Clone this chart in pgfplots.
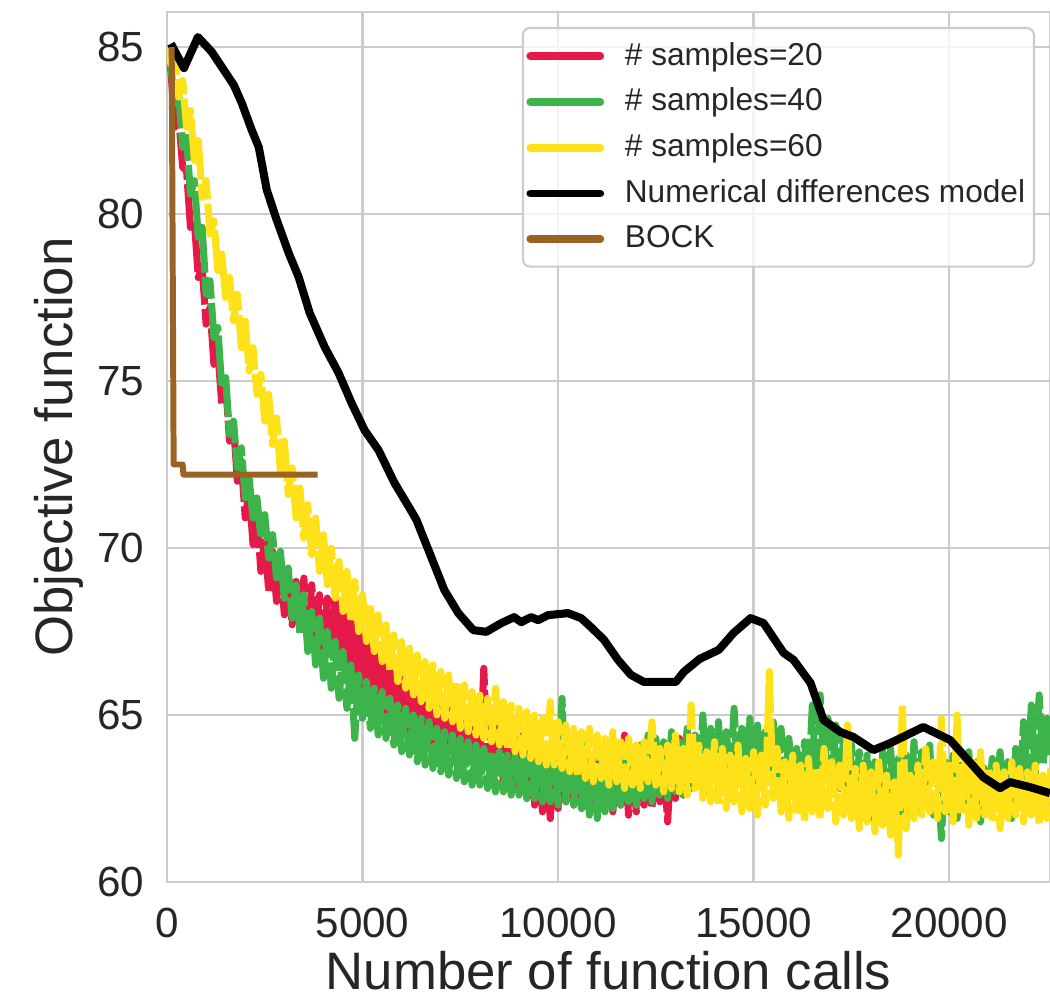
\documentclass[border=0pt]{standalone}
\usepackage{pgfplots}
\pgfplotsset{compat=1.18}
\usepackage{fontspec}
\setmainfont{Liberation Sans}
\usetikzlibrary{calc}
\definecolor{cred}{RGB}{230,25,75}
\definecolor{cgreen}{RGB}{60,180,75}
\definecolor{cyellow}{RGB}{255,225,25}
\definecolor{cbrown}{RGB}{154,99,36}
\definecolor{txt}{RGB}{38,38,38}
\definecolor{gridc}{RGB}{204,204,204}
\begin{document}
\begin{tikzpicture}
\begin{axis}[
  width=8.83cm, height=8.70cm, scale only axis,
  xmin=0, xmax=22577, ymin=60, ymax=86.05,
  xtick={0,5000,...,20000}, ytick={60,65,...,85},
  grid=major, major grid style={gridc, line width=0.7pt},
  axis line style={gridc, line width=0.8pt},
  tick style={draw=none},
  scaled ticks=false,
  /pgf/number format/1000 sep={},
  /pgf/number format/assume math mode=true,
  tick label style={font=\fontsize{12}{12}\selectfont, text=txt},
  yticklabel style={anchor=east, inner sep=0pt, xshift=-0.22cm},
  xticklabel style={anchor=north, inner sep=0pt, yshift=-0.25cm},
  xlabel={Number of function calls},
  ylabel={Objective function},
  every axis x label/.style={at={(axis description cs:0.5,-0.124)}, anchor=base, font=\fontsize{15}{15}\selectfont, text=txt},
  every axis y label/.style={at={(axis description cs:-0.1065,0.5)}, anchor=base, rotate=90, font=\fontsize{15}{15}\selectfont, text=txt},
  legend cell align=left,
  legend style={at={(1,1)}, anchor=north east, xshift=-0.15cm, yshift=-0.15cm,
    draw=gridc, line width=0.6pt, rounded corners=2pt, fill=white, fill opacity=0.8, text opacity=1,
    font=\fontsize{9}{10}\selectfont, text=txt, row sep=1.0pt, inner xsep=1pt,
    nodes={inner xsep=1.5pt},
    /tikz/every odd column/.append style={column sep=4.4pt}},
  legend image code/.code={\draw[#1, solid, line width=2.2pt, line cap=round] (0cm,0cm) -- (0.7cm,0cm);},
  noisy/.style={line width=2pt, line join=round, dash pattern=on 14pt off 1.2pt},
]
\coordinate (sw) at (rel axis cs:0,0);
\coordinate (ne) at (rel axis cs:1,1);

\addplot[cred, noisy] coordinates {
(0,85.0)(100,84.3)(200,82.6)(300,82.9)(400,81.4)(500,81.3)(600,79.6)(700,79.8)(800,78.1)(900,78.4)
(1000,76.7)(1100,77.2)(1200,75.5)(1300,75.9)(1400,74.3)(1500,74.9)(1600,73.2)(1700,73.7)(1800,72.0)(1900,72.6)
(2000,70.9)(2100,71.7)(2200,70.1)(2300,71.0)(2400,69.3)(2500,70.3)(2600,68.7)(2700,69.9)(2800,68.4)(2900,69.5)
(3000,68.0)(3100,69.2)(3200,67.7)(3300,69.0)(3400,67.6)(3500,69.1)(3600,67.3)(3700,68.9)(3800,67.2)(3900,68.6)
(4000,66.9)(4100,68.5)(4200,66.8)(4300,68.7)(4400,66.9)(4500,68.2)(4600,66.5)(4700,67.9)(4800,66.2)(4900,67.7)
(5000,65.8)(5100,67.3)(5200,65.6)(5300,67.0)(5400,65.3)(5500,66.8)(5600,65.0)(5700,66.5)(5800,64.8)(5900,66.3)
(6000,64.7)(6100,66.2)(6200,64.5)(6300,65.9)(6400,64.4)(6500,65.8)(6600,64.2)(6700,65.7)(6800,64.1)(6900,65.9)
(7000,64.0)(7100,65.4)(7200,63.9)(7300,65.6)(7400,63.8)(7500,65.3)(7600,63.7)(7700,65.2)(7800,63.6)(7900,65.0)
(8000,63.5)(8100,66.4)(8200,63.4)(8300,65.1)(8400,63.3)(8500,65.4)(8600,63.0)(8700,64.9)(8800,62.9)(8900,64.6)
(9000,62.7)(9100,64.4)(9200,62.5)(9300,64.2)(9400,62.3)(9500,63.8)(9600,62.1)(9700,63.4)(9800,61.9)(9900,63.6)
(10000,62.2)(10100,63.9)(10200,62.4)(10300,64.0)(10400,62.3)(10500,63.8)(10600,62.2)(10700,63.9)(10800,62.1)(10900,63.7)
(11000,62.0)(11100,63.8)(11200,62.2)(11300,64.1)(11400,62.1)(11500,63.6)(11600,62.3)(11700,64.4)(11800,62.0)(11900,63.7)
(12000,62.1)(12100,63.9)(12200,62.3)(12300,63.8)(12400,62.2)(12500,64.0)(12600,62.4)(12700,63.7)(12800,61.8)(12900,63.9)
(13000,62.5)(13100,64.3)(13200,62.6)(13300,64.5)(13400,63.0)(13500,64.4)
};
\addlegendentry{\# samples=20}

\addplot[cgreen, noisy] coordinates {
(0,85.0)(100,84.4)(200,83.3)(300,83.6)(400,82.0)(500,82.3)(600,80.6)(700,81.0)(800,79.3)(900,79.6)
(1000,77.6)(1100,78.0)(1200,76.3)(1300,76.6)(1400,74.8)(1500,75.1)(1600,73.4)(1700,73.8)(1800,72.4)(1900,73.0)
(2000,71.5)(2100,72.1)(2200,70.9)(2300,71.5)(2400,70.3)(2500,71.0)(2600,69.7)(2700,70.4)(2800,69.1)(2900,69.9)
(3000,68.5)(3100,69.4)(3200,67.9)(3300,68.9)(3400,67.4)(3500,68.6)(3600,66.9)(3700,68.1)(3800,66.5)(3900,67.9)
(4000,66.1)(4100,67.5)(4200,65.8)(4300,67.2)(4400,65.5)(4500,66.9)(4600,65.2)(4700,66.5)(4800,64.3)(4900,66.2)
(5000,64.9)(5100,66.0)(5200,64.6)(5300,65.8)(5400,64.4)(5500,65.7)(5600,64.3)(5700,65.5)(5800,64.1)(5900,65.3)
(6000,63.9)(6100,65.2)(6200,63.8)(6300,65.0)(6400,63.6)(6500,64.9)(6600,63.5)(6700,64.8)(6800,63.4)(6900,64.6)
(7000,63.3)(7100,64.5)(7200,63.2)(7300,64.4)(7400,63.1)(7500,64.3)(7600,63.0)(7700,64.2)(7800,62.9)(7900,64.1)
(8000,62.9)(8100,64.0)(8200,62.8)(8300,63.9)(8400,62.7)(8500,63.9)(8600,62.7)(8700,63.8)(8800,62.6)(8900,63.8)
(9000,62.6)(9100,63.7)(9200,62.5)(9300,64.2)(9400,62.5)(9500,63.6)(9600,62.4)(9700,63.6)(9800,62.4)(9900,64.0)
(10000,62.3)(10100,65.5)(10200,62.4)(10300,64.3)(10400,62.3)(10500,63.9)(10600,62.2)(10700,64.1)(10800,62.0)(10900,63.8)
(11000,61.9)(11100,63.6)(11200,62.1)(11300,64.2)(11400,62.2)(11500,63.7)(11600,62.3)(11700,64.0)(11800,62.4)(11900,63.9)
(12000,62.3)(12100,64.1)(12200,62.5)(12300,64.4)(12400,62.4)(12500,64.3)(12600,62.6)(12700,64.2)(12800,62.5)(12900,64.5)
(13000,62.7)(13100,64.2)(13200,62.6)(13300,64.6)(13400,62.8)(13500,64.4)(13600,62.9)(13700,65.0)(13800,62.7)(13900,64.6)
(14000,63.0)(14100,64.8)(14200,62.8)(14300,64.5)(14400,63.1)(14500,65.2)(14600,62.9)(14700,64.6)(14800,63.2)(14900,64.9)
(15000,63.0)(15100,64.7)(15200,62.8)(15300,64.5)(15400,63.2)(15500,64.8)(15600,63.0)(15700,64.6)(15800,62.7)(15900,64.3)
(16000,62.9)(16100,64.0)(16200,62.6)(16300,64.2)(16400,62.8)(16500,65.3)(16600,62.9)(16700,65.6)(16800,63.2)(16900,64.9)
(17000,63.0)(17100,64.7)(17200,62.8)(17300,64.3)(17400,62.6)(17500,64.1)(17600,62.3)(17700,63.9)(17800,62.2)(17900,63.8)
(18000,61.9)(18100,63.6)(18200,62.1)(18300,63.9)(18400,62.3)(18500,64.0)(18600,62.2)(18700,63.7)(18800,62.0)(18900,63.8)
(19000,62.3)(19100,64.2)(19200,62.1)(19300,63.9)(19400,62.4)(19500,64.1)(19600,62.0)(19700,63.5)(19800,61.3)(19900,63.6)
(20000,62.1)(20100,63.8)(20200,61.9)(20300,63.5)(20400,62.2)(20500,63.9)(20600,62.0)(20700,63.6)(20800,61.8)(20900,63.4)
(21000,62.1)(21100,63.7)(21200,62.3)(21300,63.9)(21400,62.0)(21500,63.6)(21600,61.9)(21700,64.0)(21800,62.5)(21900,64.8)
(22000,63.0)(22100,65.3)(22200,63.2)(22300,65.6)(22400,63.5)(22500,64.9)(22600,63.8)
};
\addlegendentry{\# samples=40}

\addplot[cyellow, noisy] coordinates {
(0,85.0)(100,84.5)(200,84.8)(300,83.5)(400,84.0)(500,82.6)(600,83.1)(700,81.6)(800,82.2)(900,80.5)
(1000,81.0)(1100,79.4)(1200,79.8)(1300,78.3)(1400,78.8)(1500,77.5)(1600,78.1)(1700,76.8)(1800,77.6)(1900,76.0)
(2000,76.8)(2100,75.3)(2200,76.0)(2300,74.6)(2400,75.2)(2500,73.8)(2600,74.6)(2700,73.1)(2800,73.9)(2900,72.3)
(3000,73.2)(3100,71.6)(3200,72.4)(3300,70.9)(3400,71.8)(3500,70.3)(3600,71.3)(3700,69.8)(3800,70.9)(3900,69.3)
(4000,70.4)(4100,68.9)(4200,70.0)(4300,68.5)(4400,69.6)(4500,68.1)(4600,69.3)(4700,67.8)(4800,69.0)(4900,67.5)
(5000,68.6)(5100,67.2)(5200,68.3)(5300,66.9)(5400,68.0)(5500,66.6)(5600,67.7)(5700,66.3)(5800,67.4)(5900,66.0)
(6000,67.2)(6100,65.8)(6200,67.0)(6300,65.6)(6400,66.8)(6500,65.4)(6600,66.6)(6700,65.2)(6800,66.5)(6900,65.0)
(7000,66.3)(7100,64.9)(7200,66.2)(7300,64.8)(7400,66.0)(7500,64.6)(7600,65.9)(7700,64.5)(7800,65.7)(7900,64.4)
(8000,65.6)(8100,64.3)(8200,65.5)(8300,64.2)(8400,65.8)(8500,64.1)(8600,65.4)(8700,64.0)(8800,65.3)(8900,63.9)
(9000,65.2)(9100,63.8)(9200,65.1)(9300,63.7)(9400,65.0)(9500,63.6)(9600,64.9)(9700,63.5)(9800,65.4)(9900,63.5)
(10000,64.8)(10100,63.4)(10200,64.7)(10300,63.3)(10400,64.6)(10500,63.2)(10600,64.5)(10700,63.1)(10800,64.6)(10900,63.0)
(11000,64.4)(11100,63.1)(11200,64.3)(11300,62.9)(11400,64.5)(11500,63.0)(11600,64.2)(11700,62.8)(11800,64.3)(11900,62.9)
(12000,64.1)(12100,62.8)(12200,64.2)(12300,63.0)(12400,64.8)(12500,62.9)(12600,64.0)(12700,62.7)(12800,64.1)(12900,62.8)
(13000,64.4)(13100,62.7)(13200,64.0)(13300,62.6)(13400,65.3)(13500,62.8)(13600,64.1)(13700,62.5)(13800,63.9)(13900,62.4)
(14000,64.2)(14100,62.3)(14200,64.0)(14300,62.2)(14400,63.8)(14500,62.4)(14600,64.1)(14700,62.1)(14800,63.7)(14900,62.2)
(15000,63.9)(15100,62.0)(15200,63.8)(15300,62.3)(15400,66.3)(15500,62.5)(15600,64.0)(15700,62.1)(15800,63.6)(15900,61.9)
(16000,63.8)(16100,62.0)(16200,63.5)(16300,61.8)(16400,63.7)(16500,62.1)(16600,63.4)(16700,61.9)(16800,64.0)(16900,62.2)
(17000,63.6)(17100,61.8)(17200,63.5)(17300,62.0)(17400,64.7)(17500,61.9)(17600,63.4)(17700,61.6)(17800,63.5)(17900,61.8)
(18000,63.3)(18100,61.5)(18200,63.6)(18300,61.7)(18400,63.2)(18500,61.4)(18600,63.0)(18700,60.8)(18800,65.3)(18900,61.6)
(19000,63.2)(19100,61.9)(19200,63.5)(19300,62.0)(19400,64.0)(19500,62.1)(19600,63.6)(19700,61.9)(19800,64.9)(19900,62.1)
(20000,63.5)(20100,61.8)(20200,65.0)(20300,62.0)(20400,63.8)(20500,61.7)(20600,63.6)(20700,61.9)(20800,63.9)(20900,62.0)
(21000,63.4)(21100,61.8)(21200,63.5)(21300,61.6)(21400,63.3)(21500,61.9)(21600,63.6)(21700,62.0)(21800,63.4)(21900,61.8)
(22000,63.3)(22100,62.0)(22200,63.5)(22300,61.7)(22400,63.2)(22500,61.9)(22600,63.4)
};
\addlegendentry{\# samples=60}

\addplot[black, line width=2.3pt, line join=round] coordinates {
(100,85.1)(434,84.37)(791,85.3)(1148,84.85)(1454,84.31)(1709,83.86)(1913,83.32)(2168,82.51)(2347,82.0)
(2551,80.72)(2806,79.82)(3112,78.83)(3367,78.11)(3648,77.04)(4031,76.02)(4388,75.24)(4719,74.34)
(5051,73.53)(5408,72.93)(5816,71.95)(6200,71.2)(6378,70.84)(6684,69.94)(7092,68.74)(7449,68.05)
(7832,67.54)(8163,67.49)(8546,67.75)(8877,67.93)(9056,67.78)(9311,67.93)(9490,67.84)(9745,67.99)
(10255,68.05)(10587,67.90)(10842,67.63)(11173,67.25)(11531,66.65)(11862,66.20)(12194,65.99)
(12627,65.99)(13010,65.99)(13214,66.29)(13620,66.68)(14107,66.95)(14490,67.46)(14923,67.90)
(15255,67.75)(15765,66.86)(16020,66.65)(16454,65.96)(16786,64.85)(17219,64.49)(17551,64.34)
(18061,63.95)(18495,64.16)(19337,64.64)(20025,64.25)(20867,63.14)(21301,62.81)(21556,62.99)
(22066,62.84)(22577,62.66)
};
\addlegendentry{Numerical differences model}

\addplot[cbrown, line width=1.7pt, line join=round] coordinates {
(120,85.0)(170,72.5)(400,72.5)(420,72.2)(3850,72.2)
};
\addlegendentry{BOCK}
\end{axis}
\pgfresetboundingbox
\path[use as bounding box] ($(sw)+(-1.67cm,-1.24cm)$) rectangle ($(ne)+(0,0.12cm)$);
\end{tikzpicture}
\end{document}
